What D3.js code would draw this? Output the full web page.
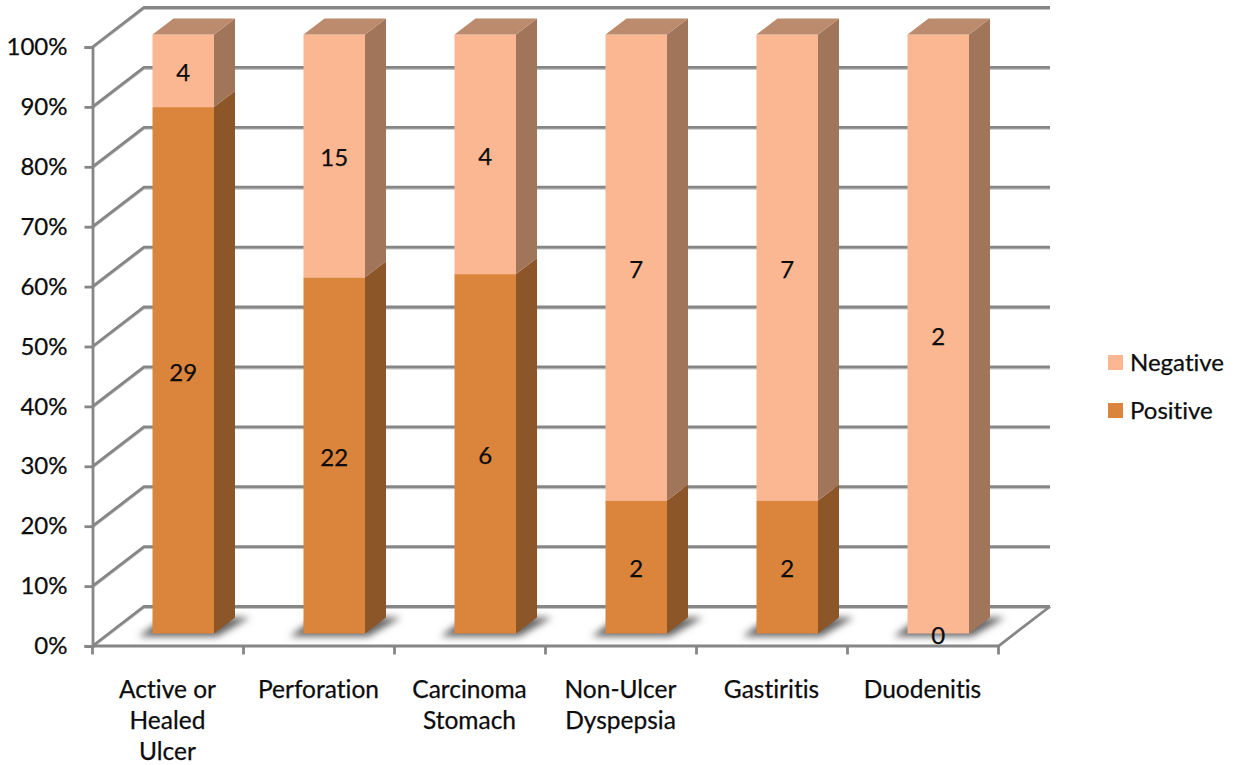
<!DOCTYPE html>
<html>
<head>
<meta charset="utf-8">
<script src="https://cdn.jsdelivr.net/npm/d3@7/dist/d3.min.js"></script>
<style>
html,body{margin:0;padding:0;background:#fff}
svg{display:block}
text{font-family:Lato,"Open Sans",sans-serif;fill:#0c0c0c;stroke:#0c0c0c;stroke-width:.25;font-variant-ligatures:none}
</style>
</head>
<body>
<svg id="chart" width="1238" height="765"></svg>
<script>
// Helicobacter results per diagnosis, drawn as 100% stacked 3-D columns.
const categories = ["Active or Healed Ulcer", "Perforation", "Carcinoma Stomach", "Non-Ulcer Dyspepsia", "Gastiritis", "Duodenitis"];
const categoryLines = [["Active or", "Healed", "Ulcer"], ["Perforation"], ["Carcinoma", "Stomach"], ["Non-Ulcer", "Dyspepsia"], ["Gastiritis"], ["Duodenitis"]];
const positive = [29, 22, 6, 2, 2, 0];
const negative = [4, 15, 4, 7, 7, 2];
const yTicks = [0, 10, 20, 30, 40, 50, 60, 70, 80, 90, 100];
const legendItems = ["Negative", "Positive"];

const palette = {
  grid: "#868686", gridShade: "#c4c4c4",
  posFront: "#DA843C", posSide: "#8C5628",
  negFront: "#FBB791", negSide: "#A0755A", negTop: "#BC8A6D"
};

// Plot box on the front plane, plus the oblique offsets for the walls and columns.
const x = d3.scaleBand().domain(categories).range([92.5, 998.5]).paddingInner(0).paddingOuter(0);
const y = d3.scaleLinear().domain([0, 100]).range([646, 47]);
const wall = { dx: 51.5, dy: -39.5 };
const colLift = -12.5;
const colDepth = { dx: 21, dy: -16 };
const colWidth = 61.5;
const colLeft = c => x(c) + (x.step() - colWidth) / 2 + 15.25;
const colY = v => y(v) + colLift;
const gridWidth = 2.8;

const svg = d3.select("#chart");
const defs = svg.append("defs");
defs.append("filter").attr("id", "soft").attr("x", "-30%").attr("y", "-80%").attr("width", "160%").attr("height", "260%")
  .append("feGaussianBlur").attr("stdDeviation", 3.5);

const poly = pts => pts.map(p => p.join(",")).join(" ");

// Grid lines along the back wall and side wall; each has a faint shade beneath it.
const grid = svg.append("g").attr("fill", "none");
const gridPaths = yTicks.map(t => {
  const yf = y(t), xf = x.range()[0];
  return [[xf, yf], [xf + wall.dx, yf + wall.dy], [x.range()[1] + wall.dx, yf + wall.dy]];
});
const lineGen = d3.line();
grid.selectAll("path.shade").data(gridPaths).join("path").attr("class", "shade")
  .attr("d", d => lineGen(d.map(p => [p[0], p[1] + 1.7])))
  .attr("stroke", palette.gridShade).attr("stroke-width", 1.6);
grid.selectAll("path.line").data(gridPaths).join("path").attr("class", "line")
  .attr("d", lineGen).attr("stroke", palette.grid).attr("stroke-width", gridWidth);

// Floor front edge and right-hand edge.
const [xa, xb] = x.range();
grid.append("path")
  .attr("d", lineGen([[xa, y(0)], [xb, y(0)], [xb + wall.dx, y(0) + wall.dy]]))
  .attr("stroke", palette.grid).attr("stroke-width", gridWidth);

// Value axis on the left, with outward ticks.
const yAxis = d3.axisLeft(y).tickValues(yTicks).tickFormat(d => d + "%").tickSize(8).tickPadding(17);
const yG = svg.append("g").attr("transform", `translate(${xa},0)`).call(yAxis);
yG.selectAll("line").attr("stroke", palette.grid).attr("stroke-width", gridWidth);
yG.select(".domain").attr("stroke", palette.grid).attr("stroke-width", gridWidth);
yG.selectAll("text").style("font-size", "24px").style("font-family", "Lato,'Open Sans',sans-serif").attr("fill", "#0c0c0c");

// Tick marks between categories.
const edges = categories.map(c => x(c)).concat([xb]);
svg.append("g").selectAll("line").data(edges).join("line")
  .attr("x1", d => d).attr("x2", d => d)
  .attr("y1", y(0)).attr("y2", y(0) + 8.5)
  .attr("stroke", palette.grid).attr("stroke-width", gridWidth);

// Soft ground shadow under every column.
svg.append("g").attr("filter", "url(#soft)").selectAll("polygon").data(categories).join("polygon")
  .attr("fill", "#5c5c5c").attr("opacity", 0.95)
  .attr("points", c => {
    const l = colLeft(c), r = l + colWidth, b = colY(0);
    return poly([[l - 14, b + 3], [r + 3, b + 3], [r + colDepth.dx + 15, b + colDepth.dy], [l + 12, b + colDepth.dy]]);
  });

// Stack the counts as shares of each category total.
const rows = categories.map((c, i) => {
  const total = positive[i] + negative[i];
  const share = positive[i] / total * 100;
  return { c, pos: positive[i], neg: negative[i], share };
});

const cols = svg.append("g").selectAll("g").data(rows).join("g");

function segment(g, lo, hi, front, side) {
  const c = g.datum().c, l = colLeft(c), r = l + colWidth;
  const yl = colY(lo), yh = colY(hi);
  g.append("polygon").attr("fill", side)
    .attr("points", poly([[r, yl], [r + colDepth.dx, yl + colDepth.dy], [r + colDepth.dx, yh + colDepth.dy], [r, yh]]));
  g.append("rect").attr("x", l).attr("y", yh).attr("width", colWidth).attr("height", yl - yh).attr("fill", front);
}

cols.each(function (d) {
  const g = d3.select(this);
  const l = colLeft(d.c), r = l + colWidth;
  if (d.share > 0) segment(g, 0, d.share, palette.posFront, palette.posSide);
  segment(g, d.share, 100, palette.negFront, palette.negSide);
  const top = colY(100);
  g.append("polygon").attr("fill", palette.negTop)
    .attr("points", poly([[l, top], [r, top], [r + colDepth.dx, top + colDepth.dy], [l + colDepth.dx, top + colDepth.dy]]));
  const cx = (l + r) / 2;
  g.append("text").attr("x", cx).attr("y", colY(d.share / 2) + 1).attr("text-anchor", "middle")
    .attr("dominant-baseline", "central").style("font-size", "24px").text(d.pos);
  g.append("text").attr("x", cx).attr("y", colY((d.share + 100) / 2) + 1).attr("text-anchor", "middle")
    .attr("dominant-baseline", "central").style("font-size", "24px").text(d.neg);
});

// Category labels, wrapped over several lines.
svg.append("g").selectAll("text").data(categories).join("text")
  .attr("text-anchor", "middle").style("font-size", "24.5px")
  .each(function (c, i) {
    d3.select(this).selectAll("tspan").data(categoryLines[i]).join("tspan")
      .attr("x", x(c) + x.step() / 2 - 0.5)
      .attr("y", (_, k) => 698 + k * 31)
      .text(t => t);
  });

// Legend.
const legendColor = d3.scaleOrdinal().domain(legendItems).range([palette.negFront, palette.posFront]);
const legendY = d3.scalePoint().domain(legendItems).range([362.5, 410.5]);
const legend = svg.append("g").selectAll("g").data(legendItems).join("g")
  .attr("transform", d => `translate(1108,${legendY(d)})`);
legend.append("rect").attr("y", -7.5).attr("width", 15).attr("height", 15).attr("fill", d => legendColor(d));
legend.append("text").attr("x", 22).attr("y", -1.5).attr("dominant-baseline", "central").style("font-size", "24px").text(d => d);
</script>
</body>
</html>
